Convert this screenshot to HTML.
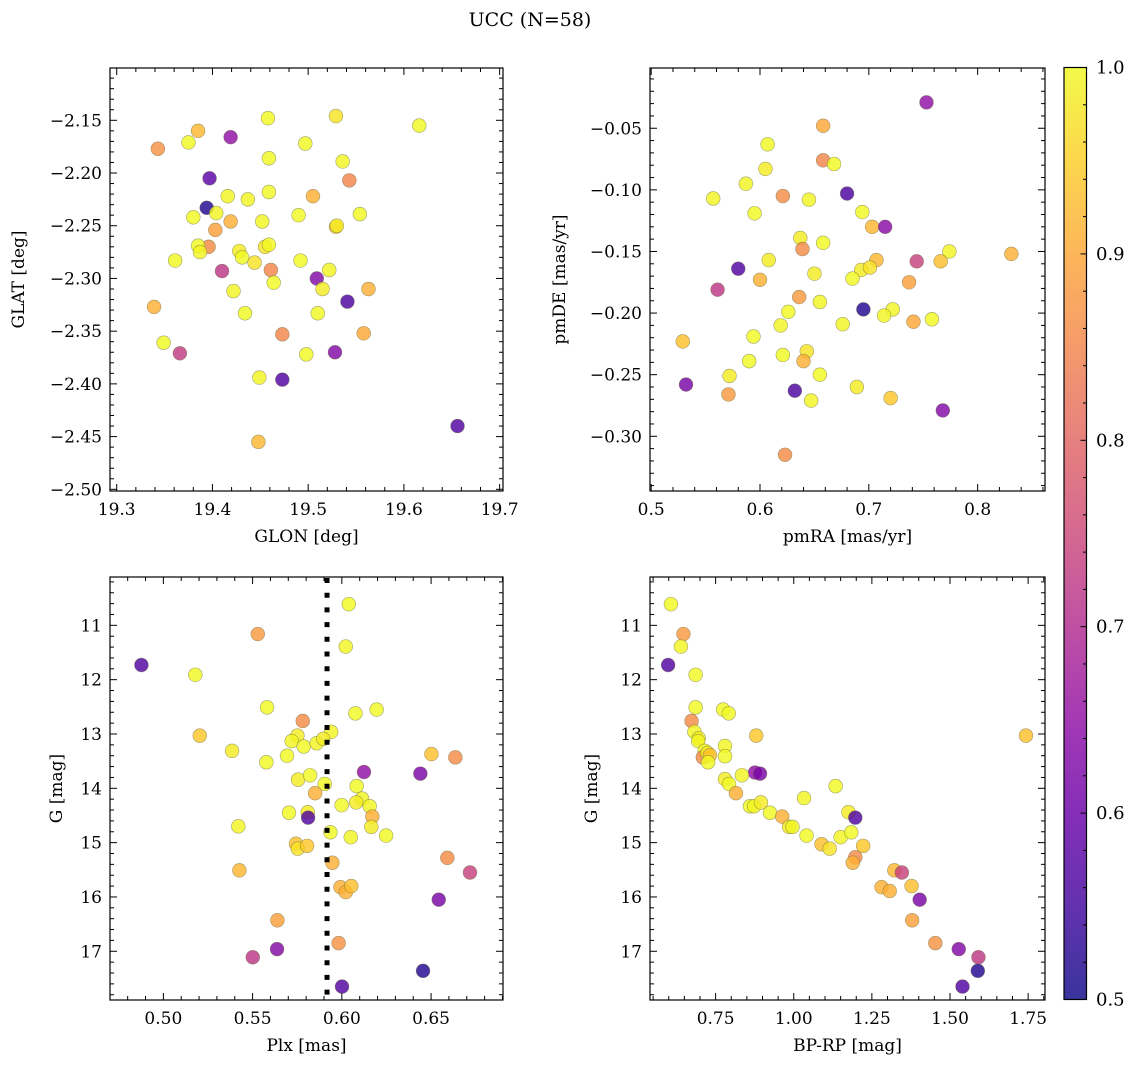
<!DOCTYPE html>
<html><head><meta charset="utf-8"><style>
html,body{margin:0;padding:0;background:#fff;}
svg{display:block;font-family:"DejaVu Serif","Liberation Serif",serif;}
</style></head><body>
<svg id="fig" width="1136" height="1067" viewBox="0 0 1136 1067" xmlns="http://www.w3.org/2000/svg">
<defs>
<linearGradient id="plasma" x1="0" y1="1" x2="0" y2="0">
<stop offset="0" stop-color="#0d0887"/><stop offset="0.1" stop-color="#41049d"/><stop offset="0.2" stop-color="#6a00a8"/><stop offset="0.3" stop-color="#8f0da4"/><stop offset="0.4" stop-color="#b12a90"/><stop offset="0.5" stop-color="#cc4778"/><stop offset="0.6" stop-color="#e16462"/><stop offset="0.7" stop-color="#f2844b"/><stop offset="0.8" stop-color="#fca636"/><stop offset="0.9" stop-color="#fcce25"/><stop offset="1" stop-color="#f0f921"/>
</linearGradient>
</defs>
<text x="530" y="26" font-size="19" text-anchor="middle">UCC (N=58)</text>
</svg>
<script>
// ---- Panel 1: GLON vs GLAT ----
const glon = [19.458,19.529,19.616,19.385,19.419,19.375,19.343,19.497,19.459,19.536,19.397,19.543,19.416,19.437,19.459,19.505,19.394,19.404,19.380,19.419,19.452,19.490,19.554,19.403,19.529,19.530,19.396,19.385,19.387,19.428,19.455,19.459,19.431,19.444,19.361,19.492,19.410,19.461,19.522,19.509,19.464,19.515,19.563,19.422,19.541,19.339,19.434,19.510,19.473,19.558,19.349,19.366,19.498,19.528,19.449,19.473,19.448,19.656];
const glat = [-2.148,-2.146,-2.155,-2.160,-2.166,-2.171,-2.177,-2.172,-2.186,-2.189,-2.205,-2.207,-2.222,-2.225,-2.218,-2.222,-2.233,-2.238,-2.242,-2.246,-2.246,-2.240,-2.239,-2.254,-2.251,-2.250,-2.270,-2.269,-2.275,-2.274,-2.270,-2.268,-2.280,-2.285,-2.283,-2.283,-2.293,-2.292,-2.292,-2.300,-2.304,-2.310,-2.310,-2.312,-2.322,-2.327,-2.333,-2.333,-2.353,-2.352,-2.361,-2.371,-2.372,-2.370,-2.394,-2.396,-2.455,-2.440];
const prob1 = [0.98,0.95,0.98,0.92,0.65,0.98,0.87,0.98,0.98,0.97,0.58,0.85,0.97,0.97,0.98,0.91,0.52,0.97,0.98,0.91,0.97,0.98,0.98,0.89,0.93,0.96,0.86,0.98,0.97,0.96,0.95,0.98,0.98,0.95,0.98,0.98,0.72,0.85,0.97,0.63,0.98,0.96,0.91,0.97,0.56,0.91,0.98,0.98,0.85,0.90,0.98,0.73,0.98,0.63,0.97,0.57,0.92,0.57];
// ---- Panel 2: pmRA vs pmDE ----
const pmra = [0.753,0.658,0.607,0.658,0.668,0.605,0.587,0.557,0.621,0.645,0.680,0.595,0.694,0.703,0.715,0.637,0.639,0.658,0.774,0.831,0.608,0.707,0.744,0.766,0.580,0.693,0.701,0.650,0.600,0.685,0.561,0.737,0.636,0.655,0.695,0.722,0.714,0.626,0.758,0.741,0.676,0.619,0.594,0.529,0.643,0.640,0.621,0.590,0.655,0.572,0.532,0.571,0.632,0.689,0.647,0.720,0.768,0.623];
const pmde = [-0.029,-0.048,-0.063,-0.076,-0.079,-0.083,-0.095,-0.107,-0.105,-0.108,-0.103,-0.119,-0.118,-0.130,-0.130,-0.139,-0.148,-0.143,-0.150,-0.152,-0.157,-0.157,-0.158,-0.158,-0.164,-0.165,-0.163,-0.168,-0.173,-0.172,-0.181,-0.175,-0.187,-0.191,-0.197,-0.197,-0.202,-0.199,-0.205,-0.207,-0.209,-0.210,-0.219,-0.223,-0.231,-0.239,-0.234,-0.239,-0.250,-0.251,-0.258,-0.266,-0.263,-0.260,-0.271,-0.269,-0.279,-0.315];
const prob2 = [0.65,0.90,0.98,0.85,0.98,0.96,0.97,0.97,0.86,0.97,0.56,0.98,0.98,0.92,0.64,0.96,0.86,0.98,0.97,0.91,0.96,0.92,0.74,0.93,0.57,0.96,0.95,0.96,0.91,0.98,0.72,0.89,0.88,0.97,0.52,0.97,0.97,0.98,0.98,0.90,0.97,0.97,0.98,0.93,0.95,0.91,0.98,0.98,0.98,0.96,0.62,0.88,0.56,0.96,0.97,0.94,0.63,0.86];
// ---- Panel 3: Plx vs G ----
const plx = [0.6039,0.5529,0.6022,0.4877,0.5179,0.5581,0.6076,0.6195,0.5781,0.5204,0.5940,0.5751,0.5719,0.5786,0.5859,0.5896,0.5385,0.5693,0.5577,0.6502,0.6636,0.6124,0.6440,0.5755,0.5822,0.5904,0.6083,0.5850,0.6113,0.6080,0.5999,0.6156,0.5704,0.5809,0.5811,0.6171,0.6165,0.5420,0.5936,0.6050,0.6248,0.5743,0.5753,0.5805,0.5947,0.6591,0.6718,0.5426,0.5992,0.6022,0.6053,0.6543,0.5639,0.5982,0.5637,0.5501,0.6455,0.6001];
const gmag3 = [10.61,11.16,11.39,11.73,11.91,12.51,12.62,12.55,12.76,13.03,12.96,13.03,13.13,13.23,13.17,13.09,13.31,13.40,13.52,13.37,13.43,13.70,13.73,13.84,13.76,13.92,13.96,14.09,14.19,14.26,14.31,14.33,14.45,14.44,14.54,14.52,14.71,14.70,14.81,14.90,14.87,15.02,15.11,15.06,15.37,15.28,15.55,15.51,15.82,15.91,15.80,16.05,16.43,16.85,16.96,17.11,17.36,17.65];
const prob3 = [0.98,0.88,0.97,0.57,0.98,0.98,0.98,0.98,0.86,0.94,0.97,0.96,0.97,0.98,0.97,0.96,0.96,0.98,0.98,0.93,0.86,0.65,0.62,0.96,0.98,0.98,0.98,0.91,0.97,0.96,0.98,0.97,0.98,0.96,0.57,0.91,0.96,0.97,0.98,0.97,0.98,0.93,0.95,0.94,0.91,0.86,0.74,0.92,0.91,0.91,0.93,0.62,0.89,0.87,0.63,0.72,0.52,0.57];
const plxLine = 0.5917;
// ---- Panel 4: BP-RP vs G ----
const bprp = [0.607,0.647,0.639,0.598,0.686,0.686,0.774,0.792,0.673,0.880,1.743,0.682,0.696,0.694,0.780,0.715,0.709,0.724,0.780,0.732,0.726,0.876,0.892,0.834,0.780,0.793,1.134,0.815,1.033,0.860,0.873,0.895,0.924,0.963,1.175,1.197,0.985,0.996,1.041,1.150,1.184,1.089,1.115,1.222,1.197,1.189,1.322,1.346,1.281,1.307,1.377,1.403,1.379,1.453,1.528,1.591,1.589,1.540];
const gmag4 = [10.61,11.16,11.39,11.73,11.91,12.51,12.55,12.62,12.76,13.03,13.03,12.96,13.08,13.13,13.22,13.31,13.43,13.35,13.41,13.39,13.52,13.71,13.73,13.76,13.83,13.92,13.96,14.09,14.18,14.33,14.33,14.26,14.45,14.52,14.44,14.54,14.71,14.71,14.87,14.90,14.81,15.03,15.11,15.06,15.27,15.37,15.51,15.55,15.82,15.89,15.80,16.05,16.43,16.85,16.96,17.11,17.36,17.65];
const prob4 = [0.98,0.88,0.97,0.57,0.98,0.98,0.98,0.98,0.86,0.94,0.93,0.97,0.96,0.97,0.97,0.97,0.86,0.96,0.98,0.93,0.98,0.65,0.62,0.97,0.96,0.98,0.98,0.91,0.97,0.98,0.97,0.96,0.98,0.91,0.96,0.57,0.96,0.97,0.98,0.97,0.98,0.93,0.95,0.94,0.86,0.91,0.92,0.74,0.91,0.91,0.93,0.62,0.89,0.87,0.63,0.72,0.52,0.57];
// colorbar ticks
const cbarTicks = [0.5,0.6,0.7,0.8,0.9,1.0];

const NS='http://www.w3.org/2000/svg';
const svg=document.getElementById('fig');
function mk(tag,attrs,parent){const e=document.createElementNS(NS,tag);for(const k in attrs)e.setAttribute(k,attrs[k]);(parent||svg).appendChild(e);return e;}
const stops=[[0,[13,8,135]],[0.1,[65,4,157]],[0.2,[106,0,168]],[0.3,[143,13,164]],[0.4,[177,42,144]],[0.5,[204,71,120]],[0.6,[225,100,98]],[0.7,[242,132,75]],[0.8,[252,166,54]],[0.9,[252,206,37]],[1,[240,249,33]]];
function plasma(p){let q=p>=0.95?Math.min(1,p+0.025):p;let t=Math.max(0,Math.min(1,(q-0.5)/0.5));for(let i=0;i<stops.length-1;i++){const a=stops[i],b=stops[i+1];if(t<=b[0]){const f=(t-a[0])/(b[0]-a[0]);return 'rgb('+a[1].map((v,j)=>Math.round(v+(b[1][j]-v)*f)).join(',')+')';}}return 'rgb(240,249,33)';}

function panel(o){
  const {x0,x1,y0,y1,xmin,xmax,ymin,ymax,invY,name}=o;
  const sx=v=>x0+(v-xmin)/(xmax-xmin)*(x1-x0);
  const sy=v=>invY? y0+(v-ymin)/(ymax-ymin)*(y1-y0) : y1-(v-ymin)/(ymax-ymin)*(y1-y0);
  const g=mk('g',{});
  
  
  o.g=g;o.sx=sx;o.sy=sy;
  return o;
}
function axes(o){
  const {x0,x1,y0,y1,xt,yt,xminor,yminor,xfmt,yfmt,g,sx,sy}=o;
  mk('rect',{x:x0,y:y0,width:x1-x0,height:y1-y0,fill:'none',stroke:'#000','stroke-width':1.2},g);
  const lo=Math.min(o.xmin,o.xmax),hi=Math.max(o.xmin,o.xmax);
  for(let v=Math.ceil(lo/xminor-1e-6)*xminor;v<=hi+1e-9;v+=xminor){const X=sx(v);const maj=xt.some(t=>Math.abs(t-v)<xminor/10);const L=maj?7:4;
    mk('line',{x1:X,y1:o.y1,x2:X,y2:o.y1-L,stroke:'#000','stroke-width':1},g);mk('line',{x1:X,y1:o.y0,x2:X,y2:o.y0+L,stroke:'#000','stroke-width':1},g);}
  const ylo=Math.min(o.ymin,o.ymax),yhi=Math.max(o.ymin,o.ymax);
  for(let v=Math.ceil(ylo/yminor-1e-6)*yminor;v<=yhi+1e-9;v+=yminor){const Y=sy(v);const maj=yt.some(t=>Math.abs(t-v)<yminor/10);const L=maj?7:4;
    mk('line',{x1:o.x0,y1:Y,x2:o.x0+L,y2:Y,stroke:'#000','stroke-width':1},g);mk('line',{x1:o.x1,y1:Y,x2:o.x1-L,y2:Y,stroke:'#000','stroke-width':1},g);}
  xt.forEach(v=>{const t=mk('text',{x:sx(v),y:o.y1+24,'font-size':17,'text-anchor':'middle'},g);t.textContent=xfmt(v);
    
    });
  yt.forEach(v=>{const t=mk('text',{x:o.x0-8,y:sy(v)+6,'font-size':17,'text-anchor':'end'},g);t.textContent=yfmt(v);
    
    });
  const xl=mk('text',{x:(o.x0+o.x1)/2,y:o.y1+51,'font-size':17,'text-anchor':'middle'},g);xl.textContent=o.xlabel;
  
  
  const cy=(o.y0+o.y1)/2, cx=o.ylx;
  const yl=mk('text',{x:cx,y:cy,'font-size':17,'text-anchor':'middle',transform:'rotate(-90 '+cx+' '+cy+')'},g);yl.textContent=o.ylabel;
  
  
}
function scatter(o,xs,ys,ps){
  xs.forEach((v,i)=>{const c=mk('circle',{cx:o.sx(v),cy:o.sy(ys[i]),r:6.9,fill:plasma(ps[i]),'fill-opacity':0.82,stroke:'#6b6b40','stroke-opacity':0.6,'stroke-width':0.6},o.g);
    
    });
}
const f2=v=>v.toFixed(2), f1=v=>v.toFixed(1), f0=v=>String(Math.round(v));
const neg=s=>s.replace('-','\u2212');

const p1=panel({name:'panel-glon-glat',x0:110,x1:503,y0:68,y1:491,xmin:19.293,xmax:19.7035,ymin:-2.5016,ymax:-2.1004,xt:[19.3,19.4,19.5,19.6,19.7],yt:[-2.5,-2.45,-2.4,-2.35,-2.3,-2.25,-2.2,-2.15],xminor:0.02,yminor:0.01,xfmt:f1,yfmt:v=>neg(f2(v)),xlabel:'GLON [deg]',ylabel:'GLAT [deg]',ylx:24});
scatter(p1,glon,glat,prob1);axes(p1);
const p2=panel({name:'panel-pmra-pmde',x0:650,x1:1045,y0:68,y1:491,xmin:0.4989,xmax:0.8619,ymin:-0.3444,ymax:-0.0011,xt:[0.5,0.6,0.7,0.8],yt:[-0.3,-0.25,-0.2,-0.15,-0.1,-0.05],xminor:0.02,yminor:0.01,xfmt:f1,yfmt:v=>neg(f2(v)),xlabel:'pmRA [mas/yr]',ylabel:'pmDE [mas/yr]',ylx:565});
scatter(p2,pmra,pmde,prob2);axes(p2);
const p3=panel({name:'panel-plx-g',x0:110,x1:503,y0:577,y1:1000,xmin:0.4701,xmax:0.6903,ymin:10.11,ymax:17.897,invY:true,xt:[0.5,0.55,0.6,0.65],yt:[11,12,13,14,15,16,17],xminor:0.01,yminor:0.2,xfmt:f2,yfmt:f0,xlabel:'Plx [mas]',ylabel:'G [mag]',ylx:62});
scatter(p3,plx,gmag3,prob3);
const ln=mk('line',{x1:p3.sx(plxLine),y1:578,x2:p3.sx(plxLine),y2:999,stroke:'#000','stroke-width':5,'stroke-dasharray':'5 9.7'},p3.g);


axes(p3);
const p4=panel({name:'panel-bprp-g',x0:650,x1:1045,y0:577,y1:1000,xmin:0.540,xmax:1.804,ymin:10.11,ymax:17.897,invY:true,xt:[0.75,1.0,1.25,1.5,1.75],yt:[11,12,13,14,15,16,17],xminor:0.05,yminor:0.2,xfmt:f2,yfmt:f0,xlabel:'BP-RP [mag]',ylabel:'G [mag]',ylx:597});
scatter(p4,bprp,gmag4,prob4);axes(p4);

// colorbar
const cb=mk('g',{});


const cbx0=1064,cbx1=1086.5,cby0=67.5,cby1=999.5;
mk('rect',{x:cbx0,y:cby0,width:cbx1-cbx0,height:cby1-cby0,fill:'url(#plasma)','fill-opacity':0.82},cb);
mk('rect',{x:cbx0,y:cby0,width:cbx1-cbx0,height:cby1-cby0,fill:'none',stroke:'#000','stroke-width':1.2},cb);
const cy=v=>cby1-(v-0.5)/0.5*(cby1-cby0);
for(let k=0;k<=25;k++){const v=0.5+k*0.02;const maj=Math.abs((v*10)-Math.round(v*10))<1e-6;mk('line',{x1:cbx1,y1:cy(v),x2:cbx1-(maj?6:3.5),y2:cy(v),stroke:'#000','stroke-width':1},cb);}
cbarTicks.forEach(v=>{const t=mk('text',{x:1096,y:cy(v)+6,'font-size':18},cb);t.textContent=v.toFixed(1);
  
  });
</script>
</body></html>
